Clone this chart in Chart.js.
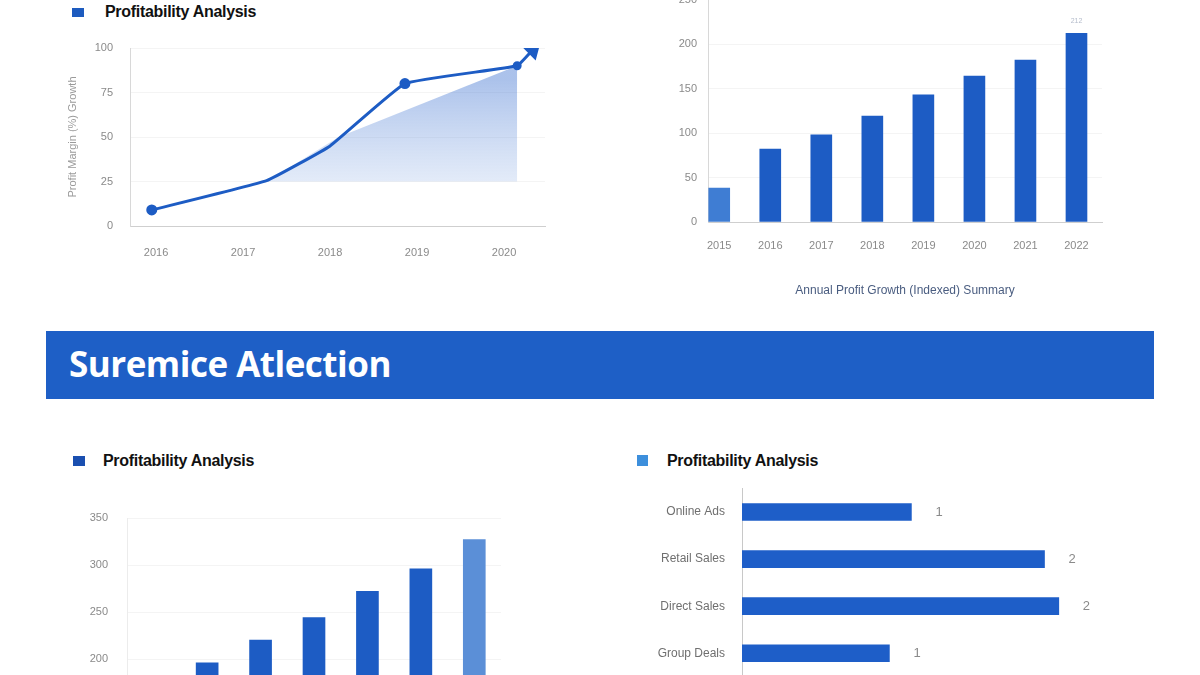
<!DOCTYPE html>
<html>
<head>
<meta charset="utf-8">
<script src="https://cdn.jsdelivr.net/npm/chart.js@4.4.1/dist/chart.umd.min.js"></script>
<style>
    html, body {
        margin: 0;
        padding: 0;
        width: 1200px;
        height: 675px;
        overflow: hidden;
        background: #ffffff;
        font-family: 'Liberation Sans', Arial, sans-serif;
    }
    .box {
        position: absolute;
    }
    .box canvas {
        display: block;
    }
    .swatch {
        position: absolute;
        width: 12px;
        height: 9px;
    }
    .title {
        position: absolute;
        font-weight: bold;
        font-size: 16px;
        color: #111;
        line-height: 20px;
        letter-spacing: -0.3px;
    }
    #banner {
        position: absolute;
        left: 46px;
        top: 331px;
        width: 1108px;
        height: 68px;
        background: #1e5fc6;
    }
    #banner span {
        position: absolute;
        left: 23px;
        top: 13px;
        color: #fff;
        font-family: 'Open Sans', sans-serif;
        font-weight: bold;
        font-size: 35px;
        line-height: 40px;
        letter-spacing: -0.5px;
    }
</style>
</head>
<body>

<div class="swatch" style="left:72px; top:8px; background:#1d5bbf;"></div>
<div class="title" style="left:105px; top:2px;">Profitability Analysis</div>
<div class="box" style="left:0; top:30px;"><canvas id="line-chart" width="580" height="260"></canvas></div>

<div class="box" style="left:620px; top:-7px;"><canvas id="growth-chart" width="520" height="309"></canvas></div>

<div id="banner"><span>Suremice Atlection</span></div>

<div class="swatch" style="left:73px; top:456px; height:10px; background:#1a4fb0;"></div>
<div class="title" style="left:103px; top:451px;">Profitability Analysis</div>
<div class="box" style="left:0; top:480px;"><canvas id="yearly-chart" width="560" height="300"></canvas></div>

<div class="swatch" style="left:637px; top:455px; width:11px; height:11px; background:#3d8fdc;"></div>
<div class="title" style="left:667px; top:451px;">Profitability Analysis</div>
<div class="box" style="left:600px; top:480px;"><canvas id="channel-chart" width="560" height="204"></canvas></div>

<script>
// top left: margin trend
const lineTicks = ['2016', '2017', '2018', '2019', '2020'];
const lineX = [2015.95, 2017.27, 2018.0, 2018.86, 2020.15, 2020.33];
const lineValues = [9, 25.5, 45, 80, 90, 99];
const shadeX = [2017.27, 2018.1, 2020.15];
const shadeValues = [25, 50, 90];

// top right: growth per year
const growthLabels = ['2015', '2016', '2017', '2018', '2019', '2020', '2021', '2022'];
const growthValues = [38, 82, 98, 119, 143, 164, 182, 212];

// bottom left: yearly results
const yearlyLabels = ['2016', '2017', '2018', '2019', '2020', '2021', '2022'];
const yearlyValues = [180, 196, 220, 244, 272, 296, 327];

// bottom right: channels
const channelLabels = ['Online Ads', 'Retail Sales', 'Direct Sales', 'Group Deals'];
const channelValues = [1.54, 2.75, 2.88, 1.34];

const blue = '#1d5cc4';
const lightBlue = '#3f7dd3';
const paleBlue = '#5b8fd7';
const tickColor = '#8a8a8a';
const gridColor = 'rgba(0, 0, 0, 0.045)';
const axisColor = '#d8d8d8';

Chart.defaults.font.family = "'Liberation Sans', Arial, sans-serif";
Chart.defaults.animation = false;
Chart.defaults.responsive = false;
Chart.defaults.plugins.legend.display = false;
Chart.defaults.plugins.tooltip.enabled = false;

window.onload = function() {
    createLineChart();
    createGrowthChart();
    createYearlyChart();
    createChannelChart();
}

function fixWidth(width) {
    return scale => { scale.width = width; };
}

function fixHeight(height) {
    return scale => { scale.height = height; };
}

// invisible tick marks keep the label gap without adding vertical padding
function valueGrid(gap, showLines) {
    return {
        display: true,
        drawOnChartArea: showLines,
        color: gridColor,
        drawTicks: true,
        tickLength: gap,
        tickColor: 'transparent',
    };
}

function createLineChart() {
    const canvas = document.querySelector('#line-chart');
    const ctx = canvas.getContext('2d');

    const shade = ctx.createLinearGradient(0, 50, 0, 200);
    shade.addColorStop(0, 'rgba(70, 120, 210, 0.45)');
    shade.addColorStop(1, 'rgba(120, 160, 225, 0.06)');

    const linePoints = lineX.map((x, i) => ({ x: x, y: lineValues[i] }));
    const shadePoints = shadeX.map((x, i) => ({ x: x, y: shadeValues[i] }));

    new Chart(canvas, {
        type: 'line',
        data: {
            datasets: [
                {
                    data: linePoints,
                    borderColor: blue,
                    backgroundColor: blue,
                    borderWidth: 3,
                    tension: 0.1,
                    pointRadius: [4, 0, 0, 4, 3, 8],
                    pointStyle: ['circle', 'circle', 'circle', 'circle', 'circle', 'triangle'],
                    pointRotation: [0, 0, 0, 0, 0, 45],
                    fill: false,
                },
                {
                    data: shadePoints,
                    borderWidth: 0,
                    pointRadius: 0,
                    backgroundColor: shade,
                    fill: { value: 25 },
                },
            ],
        },
        options: {
            layout: { padding: { left: 62, right: 35, top: 18, bottom: 0 } },
            scales: {
                x: {
                    type: 'linear',
                    min: 2015.7,
                    max: 2020.47,
                    afterFit: fixHeight(64),
                    afterBuildTicks: scale => {
                        scale.ticks = lineTicks.map(t => ({ value: Number(t) }));
                    },
                    ticks: {
                        color: tickColor,
                        font: { size: 11 },
                        padding: 12,
                        callback: value => String(value),
                    },
                    grid: { display: false },
                    border: { color: '#cfcfcf' },
                },
                y: {
                    min: 0,
                    max: 100,
                    afterFit: fixWidth(68),
                    ticks: {
                        stepSize: 25,
                        color: tickColor,
                        font: { size: 11 },
                        padding: 0,
                    },
                    grid: valueGrid(17, true),
                    border: { color: axisColor },
                    title: {
                        display: true,
                        text: 'Profit Margin (%) Growth',
                        color: '#9a9a9a',
                        font: { size: 11 },
                    },
                },
            },
        },
    });
}

// small faint value above the last bar
const topValueLabel = {
    id: 'topValueLabel',
    afterDatasetsDraw(chart) {
        const meta = chart.getDatasetMeta(0);
        const last = meta.data[meta.data.length - 1];
        const ctx = chart.ctx;
        ctx.save();
        ctx.fillStyle = '#b4bccb';
        ctx.font = "7px 'Liberation Sans', Arial, sans-serif";
        ctx.textAlign = 'center';
        ctx.textBaseline = 'bottom';
        ctx.fillText(String(growthValues[growthValues.length - 1]), last.x, last.y - 9);
        ctx.restore();
    },
};

function createGrowthChart() {
    const canvas = document.querySelector('#growth-chart');
    const barPoints = growthValues.map((v, i) => ({ x: i, y: v }));

    new Chart(canvas, {
        type: 'bar',
        data: {
            datasets: [
                {
                    data: barPoints,
                    backgroundColor: growthValues.map((v, i) => i === 0 ? lightBlue : blue),
                    barThickness: 21,
                },
            ],
        },
        plugins: [topValueLabel],
        options: {
            layout: { padding: { left: 0, right: 38, top: 0, bottom: 0 } },
            scales: {
                x: {
                    type: 'linear',
                    offset: false,
                    min: -0.22,
                    max: 7.5,
                    afterFit: fixHeight(80),
                    afterBuildTicks: scale => {
                        scale.ticks = growthLabels.map((l, i) => ({ value: i }));
                    },
                    ticks: {
                        color: tickColor,
                        font: { size: 11 },
                        padding: 9,
                        callback: value => growthLabels[value],
                    },
                    grid: { display: false },
                    border: { color: '#cfcfcf' },
                    title: {
                        display: true,
                        text: 'Annual Profit Growth (Indexed) Summary',
                        color: '#4a5d80',
                        font: { size: 12 },
                    },
                },
                y: {
                    min: 0,
                    max: 250,
                    afterFit: fixWidth(88),
                    ticks: {
                        stepSize: 50,
                        color: tickColor,
                        font: { size: 11 },
                        padding: 0,
                    },
                    grid: valueGrid(11, true),
                    border: { color: axisColor },
                },
            },
        },
    });
}

function createYearlyChart() {
    const canvas = document.querySelector('#yearly-chart');

    new Chart(canvas, {
        type: 'bar',
        data: {
            labels: yearlyLabels,
            datasets: [
                {
                    data: yearlyValues,
                    backgroundColor: yearlyValues.map((v, i) => i === yearlyValues.length - 1 ? paleBlue : blue),
                    barThickness: 22,
                },
            ],
        },
        options: {
            layout: { padding: { left: 0, right: 59, top: 38, bottom: 0 } },
            scales: {
                x: {
                    afterFit: fixHeight(27),
                    ticks: { color: tickColor, font: { size: 11 } },
                    grid: { display: false },
                    border: { color: '#cfcfcf' },
                },
                y: {
                    min: 100,
                    max: 350,
                    afterFit: fixWidth(127),
                    ticks: {
                        stepSize: 50,
                        color: tickColor,
                        font: { size: 11 },
                        padding: 0,
                    },
                    grid: valueGrid(19, true),
                    border: { color: '#ececec' },
                },
            },
        },
    });
}

// value at the end of each horizontal bar
const barEndLabels = {
    id: 'barEndLabels',
    afterDatasetsDraw(chart) {
        const meta = chart.getDatasetMeta(0);
        const ctx = chart.ctx;
        ctx.save();
        ctx.fillStyle = '#8a8a8a';
        ctx.font = "13px 'Liberation Sans', Arial, sans-serif";
        ctx.textAlign = 'left';
        ctx.textBaseline = 'middle';
        meta.data.forEach((bar, i) => {
            ctx.fillText(String(Math.floor(channelValues[i])), bar.x + 24, bar.y);
        });
        ctx.restore();
    },
};

function createChannelChart() {
    const canvas = document.querySelector('#channel-chart');

    new Chart(canvas, {
        type: 'bar',
        data: {
            labels: channelLabels,
            datasets: [
                {
                    data: channelValues,
                    backgroundColor: '#1e5ec8',
                    barThickness: 17,
                },
            ],
        },
        plugins: [barEndLabels],
        options: {
            indexAxis: 'y',
            layout: { padding: { left: 0, right: 66, top: 8.5, bottom: 0 } },
            scales: {
                x: {
                    display: false,
                    min: 0,
                    max: 3.2,
                },
                y: {
                    afterFit: fixWidth(142),
                    ticks: {
                        color: '#6f6f6f',
                        font: { size: 12 },
                        padding: 0,
                    },
                    grid: valueGrid(17, false),
                    border: { color: '#c8c8c8' },
                },
            },
        },
    });
}
</script>
</body>
</html>
